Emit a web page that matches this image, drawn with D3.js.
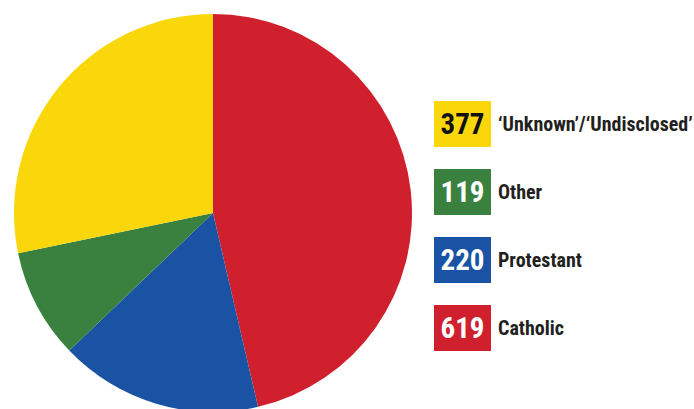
<!DOCTYPE html>
<html>
<head>
<meta charset="utf-8">
<script src="https://cdn.jsdelivr.net/npm/d3@7"></script>
<style>
  body { margin: 0; background: #fff; }
  svg { display: block; }
</style>
</head>
<body>
<svg id="chart" width="694" height="409"></svg>
<script>
const categories = ["Catholic", "Protestant", "Other", "‘Unknown’/‘Undisclosed’"]
const values = [619, 220, 119, 377]
const colors = ["#d0202d", "#1b53a4", "#3a8140", "#f9d70b"]
const numberColors = ["#ffffff", "#ffffff", "#ffffff", "#111111"]

const svg = d3.select("#chart")
const cx = 213, cy = 213, radius = 199

const data = categories.map(function(c, i) {
    return {name: c, value: values[i], color: colors[i], numColor: numberColors[i]}
})

const pie = d3.pie().sort(null).value(function(d) { return d.value })
const arc = d3.arc().innerRadius(0).outerRadius(radius)

svg.append("g")
    .attr("transform", "translate(" + cx + "," + cy + ")")
  .selectAll("path")
    .data(pie(data))
    .enter()
    .append("path")
      .attr("d", arc)
      .attr("fill", function(d) { return d.data.color })

// legend, listed bottom-up from the pie order
const legendData = data.slice().reverse()
const y = d3.scaleBand()
    .domain(legendData.map(function(d) { return d.name }))
    .range([101, 101 + 68 * 4])

const font = "'Liberation Sans Narrow', 'Arial Narrow', 'Roboto Condensed', sans-serif"
const item = svg.append("g")
  .selectAll("g")
    .data(legendData)
    .enter()
    .append("g")
      .attr("transform", function(d) { return "translate(434," + y(d.name) + ")" })

item.append("rect")
    .attr("width", 57)
    .attr("height", 46)
    .attr("fill", function(d) { return d.color })

item.append("text")
    .attr("x", 28.5)
    .attr("y", 33)
    .attr("text-anchor", "middle")
    .style("font-family", font)
    .style("font-weight", "bold")
    .style("font-size", "29px")
    .attr("fill", function(d) { return d.numColor })
    .text(function(d) { return d.value })

item.append("text")
    .attr("x", 64)
    .attr("y", 30)
    .style("font-family", font)
    .style("font-weight", "bold")
    .style("font-size", "20px")
    .attr("fill", "#231f20")
    .text(function(d) { return d.name })
</script>
</body>
</html>
